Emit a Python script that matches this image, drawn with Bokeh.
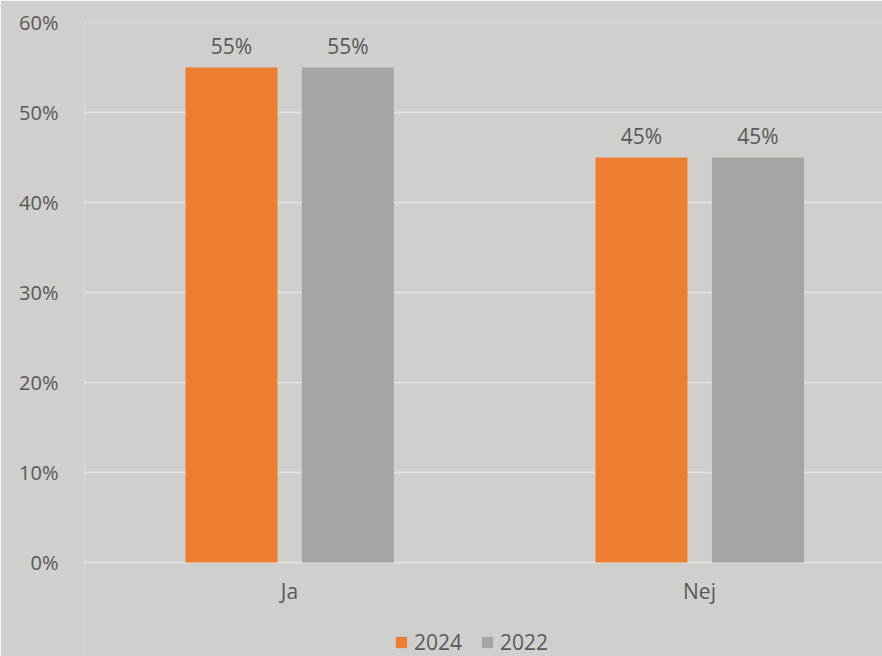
from bokeh.plotting import figure
from bokeh.models import (Range1d, FixedTicker, NumeralTickFormatter, Legend,
                          LegendItem, ColumnDataSource)
from bokeh.core.properties import value
from bokeh.embed import file_html
from bokeh.resources import INLINE

categories = ["Ja", "Nej"]
series_names = ["2024", "2022"]
values_2024 = [0.55, 0.45]
values_2022 = [0.55, 0.45]
series_colors = ["#ED7D31", "#A5A5A5"]
y_ticks = [0.0, 0.1, 0.2, 0.3, 0.4, 0.5, 0.6]

FONT = "Open Sans"
FS = "21px"
TXT = "#595959"
BG = "#cfcfcd"

# frame reaches the bottom of the canvas; 0% sits 94px above it
p = figure(width=882, height=656, output_backend="svg", toolbar_location=None,
           x_range=Range1d(0, 1.9463), y_range=Range1d(-0.10444, 0.6),
           min_border_left=84, min_border_top=22, min_border_bottom=0,
           min_border_right=0)
p.background_fill_color = BG
p.border_fill_color = BG
p.outline_line_color = None
p.xaxis.visible = False

centers = [i + 0.5 for i in range(len(categories))]
offsets = [-0.1415, 0.1425]
bar_w = 0.2244

renderers = []
for vals, off, col in zip([values_2024, values_2022], offsets, series_colors):
    src = ColumnDataSource(dict(x=[c + off for c in centers], top=vals,
                                lab=[f"{round(v*100)}%" for v in vals]))
    r = p.vbar(x="x", top="top", bottom=0, width=bar_w, source=src,
               fill_color=col, line_color=None)
    renderers.append(r)
    p.text(x="x", y="top", text="lab", source=src, text_align="center",
           text_baseline="middle", y_offset=-22, text_color=TXT,
           text_font=value(FONT), text_font_size=FS)

# category labels under the axis line
cat_src = ColumnDataSource(dict(x=centers, y=[0] * len(centers), t=categories))
p.text(x="x", y="y", text="t", source=cat_src, text_align="center",
       text_baseline="middle", y_offset=28, text_color=TXT,
       text_font=value(FONT), text_font_size=FS)

# y axis
p.yaxis.ticker = FixedTicker(ticks=y_ticks)
p.yaxis.formatter = NumeralTickFormatter(format="0%")
p.yaxis.axis_line_color = None
p.yaxis.major_tick_line_color = None
p.yaxis.minor_tick_line_color = None
p.yaxis.major_label_standoff = 20
p.yaxis.major_label_text_font = FONT
p.yaxis.major_label_text_font_size = "20px"
p.yaxis.major_label_text_color = TXT

p.xgrid.grid_line_color = None
p.ygrid.ticker = FixedTicker(ticks=y_ticks)
p.ygrid.grid_line_color = "#e2e2e0"
p.ygrid.grid_line_width = 1.5

legend = Legend(items=[LegendItem(label=n, renderers=[r])
                       for n, r in zip(series_names, renderers)],
                orientation="horizontal", location=(310, 0),
                background_fill_alpha=0, border_line_color=None,
                label_text_font=FONT, label_text_font_size=FS,
                label_text_color=TXT, glyph_width=14, glyph_height=14,
                spacing=18, padding=0, margin=0, label_standoff=6,
                label_height=18)
p.add_layout(legend, "center")

open("out.html", "w").write(file_html(p, INLINE))
